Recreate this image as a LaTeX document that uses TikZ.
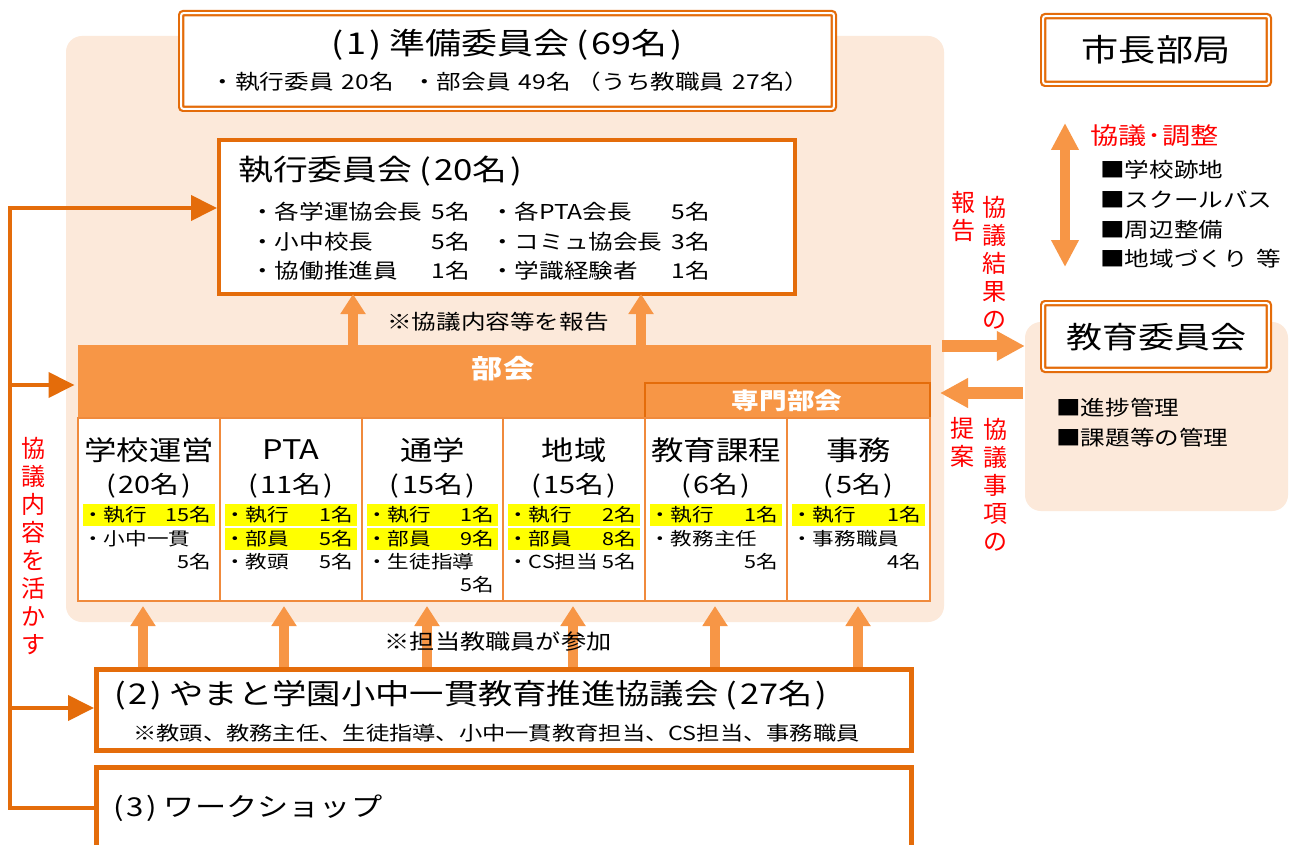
\documentclass[tikz,border=0pt]{standalone}
\usepackage{fontspec}
\setmainfont{Noto Sans CJK JP}[FakeStretch=1.2]
\newfontfamily\plainjp{Noto Sans CJK JP}
\usetikzlibrary{arrows.meta}
\definecolor{dorange}{HTML}{E46C0A}
\definecolor{lorange}{HTML}{F79646}
\definecolor{cellline}{HTML}{F08A3C}
\definecolor{peach}{HTML}{FCE9DA}
\definecolor{hiyellow}{HTML}{FFFF00}
\definecolor{jred}{HTML}{FF0000}
\newcommand{\fs}[1]{\fontsize{#1}{#1}\selectfont}
\newcommand{\LP}{\kern0.25em(\kern0.1em}
\newcommand{\RP}{\kern0.1em)\kern0.25em}
% row text: name, left x, right x, y, left text, right text
\newcommand{\trow}[6]{%
  \node[rowt,anchor=west] (#1a) at (#2+4,#4) {#5};
  \node[rowt,anchor=east] (#1b) at (#3-9,#4) {#6};}
\newcommand{\ybar}[3]{\fill[hiyellow] (#1+5,#3-11) rectangle (#2-5,#3+11);}
\tikzset{
  bg/.style={fill=peach, rounded corners=16pt, inner sep=0pt},
  dbox/.style={draw=dorange, double=white, double distance=2pt, line width=2.2pt,
               fill=white, rounded corners=2pt, inner sep=0pt},
  sbox/.style={draw=dorange, line width=4pt, fill=white, inner sep=0pt},
  tbox/.style={draw=dorange, line width=5pt, fill=white, inner sep=0pt},
  cell/.style={draw=cellline, line width=1.5pt, fill=white, inner sep=0pt},
  txt/.style={inner sep=0pt, text=black},
  rowt/.style={inner sep=0pt, text=black, font=\fs{18}},
  ext/.style={inner sep=0pt, text=black, font=\fs{20.5}},
  redt/.style={inner sep=0pt, text=jred},
  vtxt/.style={inner sep=0pt, text=jred, align=center, font=\plainjp\fontsize{24}{28}\selectfont},
  fat/.style={draw=lorange, line width=10pt, -{Triangle[width=24pt,length=20pt]}},
  fatwide/.style={draw=lorange, line width=12pt, -{Triangle[width=28pt,length=28pt]}},
  fatboth/.style={draw=lorange, line width=10pt,
     {Triangle[width=26pt,length=27pt]}-{Triangle[width=26pt,length=27pt]}},
  loopl/.style={draw=dorange, line width=4pt},
  loopa/.style={loopl, -{Triangle[width=25pt,length=26pt]}}
}
\begin{document}
\begin{tikzpicture}[x=1pt,y=-1pt]
\useasboundingbox (0,0) rectangle (1298,845);
\clip (0,0) rectangle (1298,845);
\fill[white] (0,0) rectangle (1298,845);

% backgrounds
\node[bg, minimum width=878, minimum height=586] (mainbg) at (505,329) {};
\node[bg, minimum width=263, minimum height=189] (boebg) at (1156.5,416.5) {};

% (1) preparatory committee
\node[dbox, minimum width=652.6, minimum height=95.6] (prep) at (507.5,61) {};
\node[txt, font=\fs{30}] (prepT) at (507,45) {\LP{}1\RP{}準備委員会\LP{}69名\RP{}};
\node[txt, font=\fs{20.5}] (prepS) at (510,82) {・執行委員\hspace{0.4em}20名\hspace{0.9em}・部会員\hspace{0.4em}49名\hspace{0.3em}（うち教職員\hspace{0.4em}27名）};

% executive committee
\node[sbox, minimum width=576, minimum height=154] (exec) at (507,217) {};
\node[txt, font=\fs{29}, anchor=west] (execT) at (238,171) {執行委員会\LP{}20名\RP{}};
\node[ext, anchor=west] (e1a) at (250,212) {・各学運協会長};
\node[ext, anchor=east] (e1b) at (470,212) {5名};
\node[ext, anchor=west] (e1c) at (490,212) {・各PTA会長};
\node[ext, anchor=east] (e1d) at (710,212) {5名};
\node[ext, anchor=west] (e2a) at (250,242) {・小中校長};
\node[ext, anchor=east] (e2b) at (470,242) {5名};
\node[ext, anchor=west] (e2c) at (490,242) {・コミュ協会長};
\node[ext, anchor=east] (e2d) at (710,242) {3名};
\node[ext, anchor=west] (e3a) at (250,271) {・協働推進員};
\node[ext, anchor=east] (e3b) at (470,271) {1名};
\node[ext, anchor=west] (e3c) at (490,271) {・学識経験者};
\node[ext, anchor=east] (e3d) at (710,271) {1名};

\node[txt, font=\fs{20.5}] (rep) at (498,322) {※協議内容等を報告};

% bukai header
\node[fill=lorange, draw=lorange, line width=1pt, inner sep=0pt, minimum width=852, minimum height=73] (bukai) at (504,381.5) {};
\node[fill=lorange, draw=dorange, line width=1.2pt, inner sep=0pt, minimum width=285, minimum height=35] (senmon) at (787.5,400.5) {};
\node[txt, text=white, font=\fs{26}\bfseries] (bukaiT) at (503,369) {部会};
\node[txt, text=white, font=\fs{23}\bfseries] (senmonT) at (787,401) {専門部会};

% columns
\foreach \i/\L/\R/\ttl/\cnt in {1/78/220/学校運営/20, 2/220/362/PTA/11, 3/362/503/通学/15,
                                 4/503/645/地域/15, 5/645/787/教育課程/6, 6/787/930/事務/5}{
  \node[cell, minimum width=\R-\L, minimum height=183] (cell\i) at ({(\L+\R)/2},509.5) {};
  \node[txt, font=\fs{27}] (ct\i) at ({(\L+\R)/2},450) {\ttl};
  \node[txt, font=\fs{24}] (cc\i) at ({(\L+\R)/2},486) {\LP{}\cnt{}名\RP{}};
}
% column 1
\ybar{78}{220}{515}
\trow{c1r1}{78}{220}{515}{・執行}{15名}
\node[rowt, anchor=west] (c1r2) at (82,539) {・小中一貫};
\node[rowt, anchor=east] (c1r3) at (211,562) {5名};
% column 2
\ybar{220}{362}{515}\ybar{220}{362}{539}
\trow{c2r1}{220}{362}{515}{・執行}{1名}
\trow{c2r2}{220}{362}{539}{・部員}{5名}
\trow{c2r3}{220}{362}{562}{・教頭}{5名}
% column 3
\ybar{362}{503}{515}\ybar{362}{503}{539}
\trow{c3r1}{362}{503}{515}{・執行}{1名}
\trow{c3r2}{362}{503}{539}{・部員}{9名}
\node[rowt, anchor=west] (c3r3) at (366,562) {・生徒指導};
\node[rowt, anchor=east] (c3r4) at (494,585) {5名};
% column 4
\ybar{503}{645}{515}\ybar{503}{645}{539}
\trow{c4r1}{503}{645}{515}{・執行}{2名}
\trow{c4r2}{503}{645}{539}{・部員}{8名}
\trow{c4r3}{503}{645}{562}{・CS担当}{5名}
% column 5
\ybar{645}{787}{515}
\trow{c5r1}{645}{787}{515}{・執行}{1名}
\node[rowt, anchor=west] (c5r2) at (649,539) {・教務主任};
\node[rowt, anchor=east] (c5r3) at (778,562) {5名};
% column 6
\ybar{787}{930}{515}
\trow{c6r1}{787}{930}{515}{・執行}{1名}
\node[rowt, anchor=west] (c6r2) at (791,539) {・事務職員};
\node[rowt, anchor=east] (c6r3) at (921,562) {4名};

% (2) and (3)
\node[tbox, minimum width=815, minimum height=81] (p2) at (504,710) {};
\node[txt, font=\fs{28.6}, anchor=west] (p2T) at (107,695) {\LP{}2\RP{}やまと学園小中一貫教育推進協議会\LP{}27名\RP{}};
\node[txt, font=\fs{19.4}, anchor=west] (p2S) at (133,733) {※教頭、教務主任、生徒指導、小中一貫教育担当、CS担当、事務職員};
\node[tbox, minimum width=815, minimum height=85] (p3) at (504,810) {};
\node[txt, font=\fs{26}, anchor=west] (p3T) at (107,808) {\LP{}3\RP{}ワークショップ};

% right side
\node[dbox, minimum width=225.6, minimum height=67.6] (mayor) at (1156,50) {};
\node[txt, font=\fs{31}] (mayorT) at (1156,50) {市長部局};
\node[redt, font=\fs{23.5}, anchor=west] (kyogi) at (1090,136) {協議\kern1pt ･\kern1pt 調整};
\node[txt, font=\fs{20.5}, anchor=west] (m1) at (1100,170) {■学校跡地};
\node[txt, font=\fs{20.5}, anchor=west] (m2) at (1100,200) {■スクールバス};
\node[txt, font=\fs{20.5}, anchor=west] (m3) at (1100,230) {■周辺整備};
\node[txt, font=\fs{20.5}, anchor=west] (m4) at (1100,259) {■地域づくり\hspace{0.4em}等};

\node[dbox, minimum width=225.6, minimum height=66.6] (boe) at (1156,336.5) {};
\node[txt, font=\fs{30}] (boeT) at (1156,337) {教育委員会};
\node[txt, font=\fs{20.5}, anchor=west] (b1) at (1056,408) {■進捗管理};
\node[txt, font=\fs{20.5}, anchor=west] (b2) at (1056,438) {■課題等の管理};

% red vertical labels
\node[vtxt] (kek) at (994,263) {協\\議\\結\\果\\の};
\node[vtxt] (hok) at (963,216) {報\\告};
\node[vtxt] (kjk) at (995,485) {協\\議\\事\\項\\の};
\node[vtxt] (tei) at (962,442) {提\\案};
\node[vtxt] (ikasu) at (33,546) {協\\議\\内\\容\\を\\活\\か\\す};

% fat arrows
\coordinate (ex1) at (353,0);
\coordinate (ex2) at (641,0);
\draw[fat, shorten >=-2pt] (bukai.north -| ex1) -- (exec.south -| ex1);
\draw[fat, shorten >=-2pt] (bukai.north -| ex2) -- (exec.south -| ex2);
\foreach \x [count=\k] in {143,284,427,573,715,858}{
  \coordinate (up\k) at (\x,606);
  \draw[fat] (p2.north -| up\k) -- (up\k);
}
\node[txt, font=\fs{21}] (join) at (498,642) {※担当教職員が参加};
\coordinate (ra) at (942,346);
\draw[fatwide] (ra) -- (ra -| boebg.west);
\coordinate (la) at (1023,393);
\coordinate (lat) at (940,393);
\draw[fatwide] (la) -- (lat);
\coordinate (dtop) at (1065,123);
\coordinate (dbot) at (1065,267);
\draw[fatboth] (dtop) -- (dbot);

% left feedback line
\coordinate (lt) at (10,208);
\coordinate (lm) at (10,385);
\coordinate (l2) at (10,708);
\coordinate (lb) at (10,808);
\draw[loopa] (lb -| p3.west) -- (lb) -- (lt) -- (lt -| exec.west);
\draw[loopa, shorten >=3pt] (lm) -- (lm -| bukai.west);
\draw[loopa] (l2) -- (l2 -| p2.west);
\end{tikzpicture}
\end{document}
